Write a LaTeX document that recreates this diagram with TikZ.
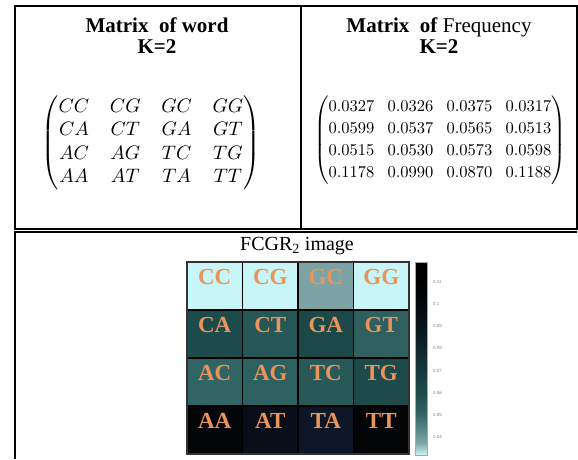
\RequirePackage{fix-cm}
\documentclass[tikz,border=0pt]{standalone}
\usepackage{amsmath}
\usepackage{graphicx}
\usepackage[no-math]{fontspec}
\setmainfont{Liberation Serif}
\newfontfamily\barfont{Liberation Sans}
\definecolor{cellorange}{HTML}{E8945A}
\definecolor{cellCC}{HTML}{C8F6F8}
\definecolor{cellGC}{HTML}{7BA3A3}
\definecolor{cellCA}{HTML}{1D4A4A}
\definecolor{cellCT}{HTML}{275656}
\definecolor{cellGA}{HTML}{1D4848}
\definecolor{cellGT}{HTML}{2F5F5F}
\definecolor{cellAC}{HTML}{316565}
\definecolor{cellAG}{HTML}{2D6060}
\definecolor{cellTC}{HTML}{295858}
\definecolor{cellTG}{HTML}{1F4A4A}
\definecolor{cellAA}{HTML}{040507}
\definecolor{cellAT}{HTML}{0A0E18}
\definecolor{cellTA}{HTML}{0D1626}
\definecolor{barA}{HTML}{CCF8F8}
\definecolor{barB}{HTML}{80A8A8}
\definecolor{barC}{HTML}{5A8C8C}
\definecolor{barD}{HTML}{306262}
\definecolor{barE}{HTML}{1E4A4A}
\definecolor{barF}{HTML}{16383C}
\definecolor{barG}{HTML}{0C1E26}
\definecolor{barH}{HTML}{050A10}
\pgfdeclareverticalshading{fcgrbar}{100bp}{color(0bp)=(barA); color(25bp)=(barA);
  color(28bp)=(barB); color(31bp)=(barC); color(36bp)=(barD); color(41bp)=(barE);
  color(47bp)=(barF); color(55bp)=(barG); color(63bp)=(barH); color(70bp)=(black); color(100bp)=(black)}
\begin{document}
\begin{tikzpicture}[x=1pt,y=-1pt,
  frame/.style={line width=2.6pt},
  title/.style={align=center,font=\fontsize{21}{21}\selectfont},
  cell/.style={draw=black,line width=1.5pt,minimum width=55.5pt,minimum height=48pt,inner sep=0pt},
  celltext/.style={text=cellorange,font=\fontsize{23}{23}\selectfont\bfseries},
  ticklabel/.style={anchor=west,text=gray,inner sep=0pt,font=\barfont\fontsize{4.5}{5}\selectfont}]
\useasboundingbox (0,0) rectangle (578,459);
\draw[frame] (15,6) rectangle (577,229);
\draw[frame] (301,6) -- (301,229);
\draw[frame] (15,459) -- (15,232) -- (577,232);
\node[title] (wordtitle) at (157,36) {\textbf{Matrix\ \ of word}\\\textbf{K=2}};
\node[title] (freqtitle) at (439,36) {\textbf{Matrix\ \ of} Frequency\\\textbf{K=2}};
\node (wordmat) at (151,143)
  {\scalebox{1.95}{$\arraycolsep=5.3pt\begin{pmatrix} CC & CG & GC & GG\\ CA & CT & GA & GT\\ AC & AG & TC & TG\\ AA & AT & TA & TT\end{pmatrix}$}};
\node (freqmat) at (440,140)
  {\scalebox{1.65}{$\arraycolsep=4pt\renewcommand{\arraystretch}{1.11}\begin{pmatrix} 0.0327 & 0.0326 & 0.0375 & 0.0317\\ 0.0599 & 0.0537 & 0.0565 & 0.0513\\ 0.0515 & 0.0530 & 0.0573 & 0.0598\\ 0.1178 & 0.0990 & 0.0870 & 0.1188\end{pmatrix}$}};
\node[font=\fontsize{20}{21}\selectfont] (fcgrtitle) at (297,246) {FCGR\textsubscript{2} image};
\foreach \word/\c/\r/\fillc in {CC/0/0/cellCC, CG/1/0/cellCC, GC/2/0/cellGC, GG/3/0/cellCC,
  CA/0/1/cellCA, CT/1/1/cellCT, GA/2/1/cellGA, GT/3/1/cellGT,
  AC/0/2/cellAC, AG/1/2/cellAG, TC/2/2/cellTC, TG/3/2/cellTG,
  AA/0/3/cellAA, AT/1/3/cellAT, TA/2/3/cellTA, TT/3/3/cellAA}
{
  \node[cell,fill=\fillc] (\word) at (214.75+55.5*\c,286+48*\r) {};
  \node[celltext] at ([yshift=-16pt]\word.north) {\word};
}
\draw[line width=1.5pt,draw=black!80] (187,262) rectangle (409,454);
\shade[shading=fcgrbar] (415,262) rectangle (427,455);
\draw[gray!70,line width=0.8pt] (415,262) rectangle (427,455);
\foreach \v/\y in {0.11/282,0.1/304,0.09/326,0.08/348,0.07/371,0.06/393,0.05/415,0.04/437}
  \node[ticklabel] at (433,\y) {\v};
\end{tikzpicture}
\end{document}
